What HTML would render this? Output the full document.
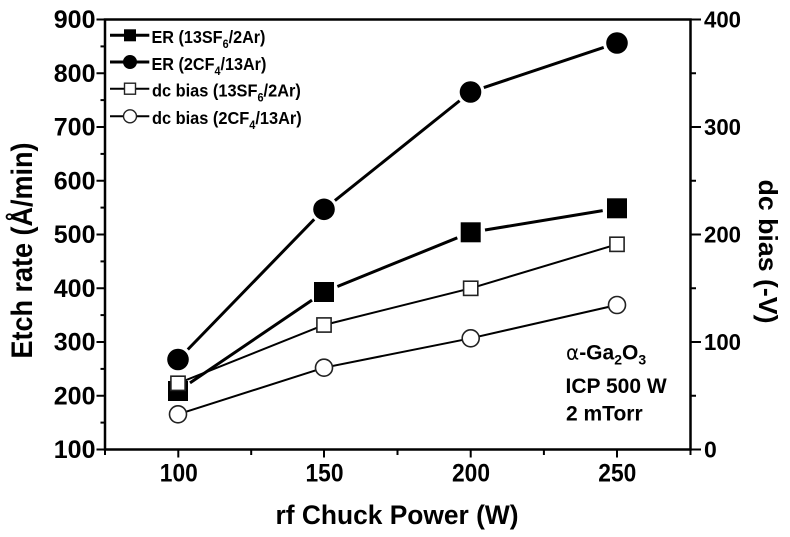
<!DOCTYPE html>
<html>
<head>
<meta charset="utf-8">
<style>
  html, body { margin: 0; padding: 0; background: #fff; }
  svg { display: block; }
  text { font-family: "Liberation Sans", Arial, sans-serif; font-weight: bold; fill: #000; }
</style>
</head>
<body>
<svg width="790" height="537" viewBox="0 0 790 537" xmlns="http://www.w3.org/2000/svg">
  <rect x="0" y="0" width="790" height="537" fill="#fff"/>

  <!-- Frame -->
  <rect x="105" y="19.5" width="585.5" height="430" fill="none" stroke="#000" stroke-width="2.5"/>

  <!-- Left ticks -->
  <g stroke="#000" stroke-width="2">
    <line x1="96.5" y1="449.5" x2="105" y2="449.5"/>
    <line x1="96.5" y1="395.75" x2="105" y2="395.75"/>
    <line x1="96.5" y1="342" x2="105" y2="342"/>
    <line x1="96.5" y1="288.25" x2="105" y2="288.25"/>
    <line x1="96.5" y1="234.5" x2="105" y2="234.5"/>
    <line x1="96.5" y1="180.75" x2="105" y2="180.75"/>
    <line x1="96.5" y1="127" x2="105" y2="127"/>
    <line x1="96.5" y1="73.25" x2="105" y2="73.25"/>
    <line x1="96.5" y1="19.5" x2="105" y2="19.5"/>
    <line x1="100.5" y1="422.6" x2="105" y2="422.6"/>
    <line x1="100.5" y1="368.9" x2="105" y2="368.9"/>
    <line x1="100.5" y1="315.1" x2="105" y2="315.1"/>
    <line x1="100.5" y1="261.4" x2="105" y2="261.4"/>
    <line x1="100.5" y1="207.6" x2="105" y2="207.6"/>
    <line x1="100.5" y1="153.9" x2="105" y2="153.9"/>
    <line x1="100.5" y1="100.1" x2="105" y2="100.1"/>
    <line x1="100.5" y1="46.4" x2="105" y2="46.4"/>
  </g>

  <!-- Right ticks -->
  <g stroke="#000" stroke-width="2">
    <line x1="690.5" y1="449.5" x2="701" y2="449.5"/>
    <line x1="690.5" y1="342" x2="701" y2="342"/>
    <line x1="690.5" y1="234.5" x2="701" y2="234.5"/>
    <line x1="690.5" y1="127" x2="701" y2="127"/>
    <line x1="690.5" y1="19.5" x2="701" y2="19.5"/>
    <line x1="690.5" y1="395.75" x2="696" y2="395.75"/>
    <line x1="690.5" y1="288.25" x2="696" y2="288.25"/>
    <line x1="690.5" y1="180.75" x2="696" y2="180.75"/>
    <line x1="690.5" y1="73.25" x2="696" y2="73.25"/>
  </g>

  <!-- X ticks -->
  <g stroke="#000" stroke-width="2">
    <line x1="178.3" y1="449.5" x2="178.3" y2="457.5"/>
    <line x1="324" y1="449.5" x2="324" y2="457.5"/>
    <line x1="470.7" y1="449.5" x2="470.7" y2="457.5"/>
    <line x1="617" y1="449.5" x2="617" y2="457.5"/>
    <line x1="105" y1="449.5" x2="105" y2="455"/>
    <line x1="251.2" y1="449.5" x2="251.2" y2="455"/>
    <line x1="397.5" y1="449.5" x2="397.5" y2="455"/>
    <line x1="543.9" y1="449.5" x2="543.9" y2="455"/>
    <line x1="690.5" y1="449.5" x2="690.5" y2="455"/>
  </g>

  <!-- Left tick labels -->
  <g font-size="25" text-anchor="end">
    <text x="95.5" y="458">100</text>
    <text x="95.5" y="404.25">200</text>
    <text x="95.5" y="350.5">300</text>
    <text x="95.5" y="296.75">400</text>
    <text x="95.5" y="243">500</text>
    <text x="95.5" y="189.25">600</text>
    <text x="95.5" y="135.5">700</text>
    <text x="95.5" y="81.75">800</text>
    <text x="95.5" y="28">900</text>
  </g>

  <!-- Right tick labels -->
  <g font-size="23" text-anchor="start">
    <text x="704" y="457.5">0</text>
    <text x="704" y="350" textLength="37" lengthAdjust="spacingAndGlyphs">100</text>
    <text x="704" y="242.5" textLength="37" lengthAdjust="spacingAndGlyphs">200</text>
    <text x="704" y="135" textLength="37" lengthAdjust="spacingAndGlyphs">300</text>
    <text x="704" y="27.5" textLength="37" lengthAdjust="spacingAndGlyphs">400</text>
  </g>

  <!-- X tick labels -->
  <g font-size="25" text-anchor="middle">
    <text x="178.8" y="481.7" textLength="38" lengthAdjust="spacingAndGlyphs">100</text>
    <text x="324.5" y="481.7" textLength="38" lengthAdjust="spacingAndGlyphs">150</text>
    <text x="471" y="481.7" textLength="38" lengthAdjust="spacingAndGlyphs">200</text>
    <text x="617.3" y="481.7" textLength="38" lengthAdjust="spacingAndGlyphs">250</text>
  </g>

  <!-- Axis titles -->
  <text x="397" y="524" font-size="27" text-anchor="middle" textLength="243" lengthAdjust="spacingAndGlyphs">rf Chuck Power (W)</text>
  <text transform="translate(32,250.5) rotate(-90)" font-size="30" text-anchor="middle" textLength="216" lengthAdjust="spacingAndGlyphs">Etch rate (Å/min)</text>
  <text transform="translate(759,251.5) rotate(90)" font-size="26" text-anchor="middle" textLength="144" lengthAdjust="spacingAndGlyphs">dc bias (-V)</text>

  <!-- ER SF6 line (thick, gapped) -->
  <g stroke="#000" stroke-width="3" stroke-linecap="butt">
    <line x1="190.0" y1="382.9" x2="312.0" y2="300.1"/>
    <line x1="337.4" y1="286.5" x2="457.3" y2="237.8"/>
    <line x1="485.0" y1="230.0" x2="602.7" y2="210.65"/>
  </g>
  <!-- ER CF4 line -->
  <g stroke="#000" stroke-width="3" stroke-linecap="butt">
    <line x1="187.8" y1="349.5" x2="314.2" y2="219.3"/>
    <line x1="334.9" y1="200.6" x2="459.6" y2="100.75"/>
    <line x1="483.8" y1="87.56" x2="603.7" y2="47.44"/>
  </g>

  <!-- ER markers -->
  <g fill="#000">
    <rect x="168" y="381" width="20" height="20"/>
    <rect x="314" y="282" width="20" height="20"/>
    <rect x="460.7" y="222.3" width="20" height="20"/>
    <rect x="607" y="198.3" width="20" height="20"/>
    <circle cx="178" cy="359.5" r="10.8"/>
    <circle cx="324" cy="209.3" r="10.8"/>
    <circle cx="470.5" cy="92" r="10.8"/>
    <circle cx="617" cy="43" r="10.8"/>
  </g>

  <!-- dc bias lines -->
  <polyline points="178,383.3 324,325 470.7,288.3 617,244.3" fill="none" stroke="#000" stroke-width="2"/>
  <polyline points="178,414.3 324,367.7 470.7,338.3 617,305" fill="none" stroke="#000" stroke-width="2"/>

  <!-- dc bias markers -->
  <g fill="#fff" stroke="#222" stroke-width="1.6">
    <rect x="170.9" y="376.2" width="14.2" height="14.2"/>
    <rect x="316.9" y="317.9" width="14.2" height="14.2"/>
    <rect x="463.6" y="281.2" width="14.2" height="14.2"/>
    <rect x="609.9" y="237.2" width="14.2" height="14.2"/>
    <circle cx="178" cy="414.3" r="8.5"/>
    <circle cx="324" cy="367.7" r="8.5"/>
    <circle cx="470.7" cy="338.3" r="8.5"/>
    <circle cx="617" cy="305" r="8.5"/>
  </g>

  <!-- Legend -->
  <g>
    <line x1="110" y1="35.3" x2="149.3" y2="35.3" stroke="#000" stroke-width="3"/>
    <rect x="124" y="29.3" width="12" height="12" fill="#000"/>
    <line x1="110" y1="62" x2="149.3" y2="62" stroke="#000" stroke-width="3"/>
    <circle cx="130" cy="62" r="7" fill="#000"/>
    <line x1="110" y1="88.7" x2="149.3" y2="88.7" stroke="#000" stroke-width="2"/>
    <rect x="124.5" y="83.2" width="11" height="11" fill="#fff" stroke="#222" stroke-width="1.4"/>
    <line x1="110" y1="116.3" x2="149.3" y2="116.3" stroke="#000" stroke-width="2"/>
    <circle cx="130" cy="116.3" r="6.5" fill="#fff" stroke="#222" stroke-width="1.4"/>
  </g>
  <g font-size="18">
    <g transform="translate(151.5,43) scale(0.9,1)">
      <text x="0" y="0">ER (13SF<tspan font-size="12" dy="5">6</tspan><tspan dy="-5">/2Ar)</tspan></text>
    </g>
    <g transform="translate(151.5,69.8) scale(0.9,1)">
      <text x="0" y="0">ER (2CF<tspan font-size="12" dy="5">4</tspan><tspan dy="-5">/13Ar)</tspan></text>
    </g>
    <g transform="translate(152,96.5) scale(0.91,1)">
      <text x="0" y="0">dc bias (13SF<tspan font-size="12" dy="5">6</tspan><tspan dy="-5">/2Ar)</tspan></text>
    </g>
    <g transform="translate(152,124) scale(0.91,1)">
      <text x="0" y="0">dc bias (2CF<tspan font-size="12" dy="5">4</tspan><tspan dy="-5">/13Ar)</tspan></text>
    </g>
  </g>

  <!-- Annotation -->
  <text x="566" y="359.5" font-size="21"><tspan font-weight="normal" font-family="'DejaVu Sans', 'Liberation Serif', serif" font-size="20">α</tspan>-Ga<tspan font-size="14" dy="5">2</tspan><tspan dy="-5">O</tspan><tspan font-size="14" dy="5">3</tspan></text>
  <text x="565.5" y="393" font-size="21">ICP 500 W</text>
  <text x="566" y="420.5" font-size="21">2 mTorr</text>
</svg>
</body>
</html>
